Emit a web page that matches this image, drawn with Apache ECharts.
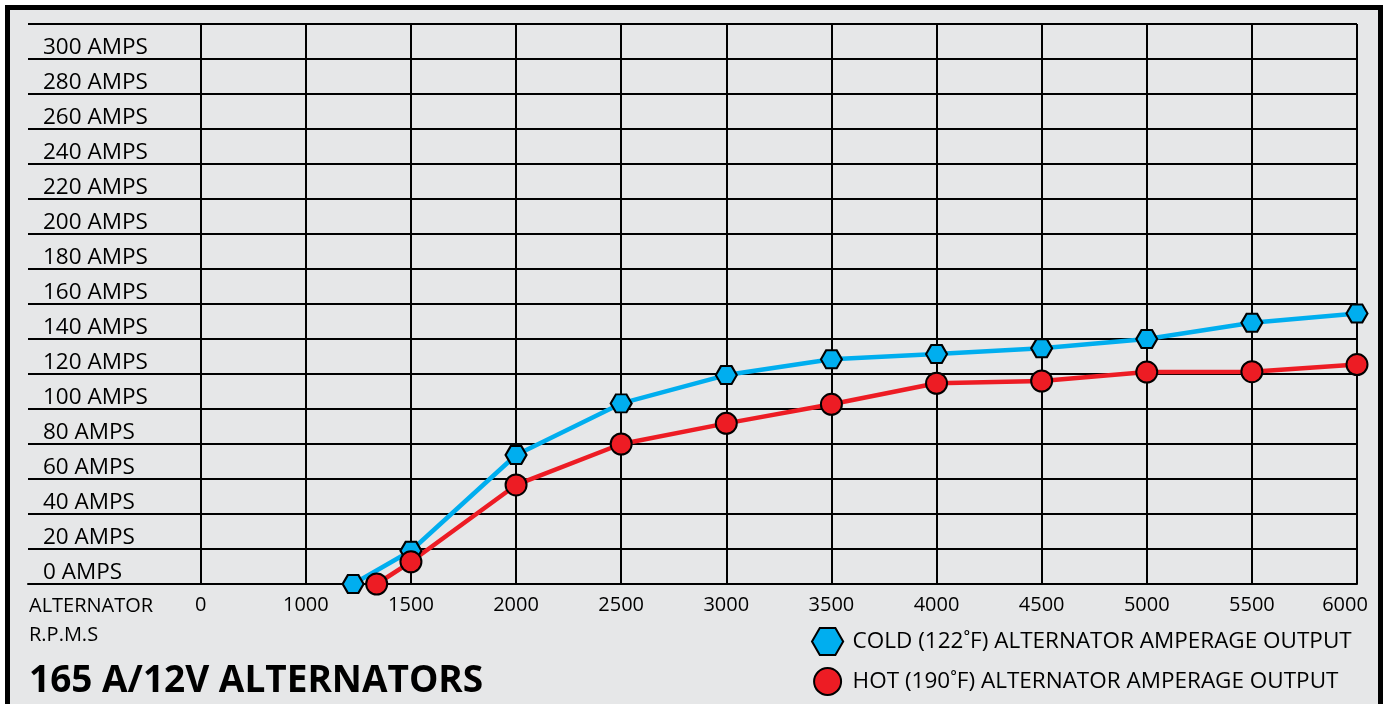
<!DOCTYPE html>
<html>
<head>
<meta charset="utf-8">
<script src="https://cdn.jsdelivr.net/npm/echarts@6/dist/echarts.min.js"></script>
<style>
  html, body { margin: 0; padding: 0; background: #ffffff; width: 1383px; height: 704px; overflow: hidden; }
  #frame { position: absolute; left: 5px; top: 5px; width: 1378px; height: 730px; box-sizing: border-box; border: 5px solid #000; background: #e6e7e8; }
  #chart { position: absolute; left: 0; top: 0; width: 1383px; height: 704px; }
</style>
</head>
<body>
<div id="frame"></div>
<div id="chart"></div>
<script>
// ---- data ----
const rpmTicks = [0, 1000, 1500, 2000, 2500, 3000, 3500, 4000, 4500, 5000, 5500, 6000];
const ampTicks = [0, 20, 40, 60, 80, 100, 120, 140, 160, 180, 200, 220, 240, 260, 280, 300];
const coldName = 'COLD (122˚F) ALTERNATOR AMPERAGE OUTPUT';
const hotName = 'HOT (190˚F) ALTERNATOR AMPERAGE OUTPUT';
const coldRpm = [1225, 1500, 2000, 2500, 3000, 3500, 4000, 4500, 5000, 5500, 6000];
const coldAmps = [0, 19, 73.7, 103.2, 119.4, 128.4, 131.4, 134.7, 140, 149.3, 154.6];
const hotRpm = [1337, 1500, 2000, 2500, 3000, 3500, 4000, 4500, 5000, 5500, 6000];
const hotAmps = [0, 12.7, 56.6, 80, 91.8, 102.7, 114.7, 116, 121.1, 121.3, 125.4];
const titleText = '165 A/12V ALTERNATORS';
const xAxisCaption = 'ALTERNATOR\nR.P.M.S';

// the printed rpm scale is evenly spaced per tick, not linear: map rpm -> tick position
function posOf(rpm) {
  for (let i = 0; i < rpmTicks.length - 1; i++) {
    const a = rpmTicks[i], b = rpmTicks[i + 1];
    if (rpm <= b) return i + (rpm - a) / (b - a);
  }
  return rpmTicks.length - 1;
}
const tickPositions = rpmTicks.map((_, i) => i);
const lastPos = rpmTicks.length - 1;

const hexPath = 'path://M0,8.66 L5,0 L15,0 L20,8.66 L15,17.32 L5,17.32 Z';
const FONT = '"Open Sans", "Noto Sans", sans-serif';

const chart = echarts.init(document.getElementById('chart'), null, { renderer: 'canvas' });
chart.setOption({
  backgroundColor: 'transparent',
  animation: false,
  textStyle: { fontFamily: FONT, color: '#000' },
  grid: { left: 28, right: 26, top: 24, bottom: 120, containLabel: false },
  xAxis: {
    type: 'value',
    min: -1.643,
    max: lastPos,
    axisLine: { show: true, onZero: false, lineStyle: { color: '#000', width: 2 } },
    axisTick: { show: false, customValues: tickPositions },
    splitLine: { show: true, lineStyle: { color: '#000', width: 2 } },
    axisLabel: {
      customValues: tickPositions,
      fontSize: 20,
      fontFamily: FONT,
      color: '#000',
      margin: 11,
      formatter: function (v) {
        const idx = Math.round(v);
        const t = String(rpmTicks[idx]);
        return idx === lastPos ? '{r|' + t + '}' : t;
      },
      rich: { r: { fontSize: 20, fontFamily: FONT, color: '#000', padding: [0, 24, 0, 0] } }
    }
  },
  yAxis: {
    type: 'value',
    min: 0,
    max: 320,
    interval: 20,
    axisLine: { show: true, lineStyle: { color: '#000', width: 2 } },
    axisTick: { show: false },
    splitLine: { show: true, lineStyle: { color: '#000', width: 2 } },
    axisLabel: {
      inside: true,
      margin: 15,
      align: 'left',
      verticalAlign: 'bottom',
      fontSize: 22.5,
      fontFamily: FONT,
      color: '#000',
      showMaxLabel: false,
      formatter: function (v) { return ampTicks.indexOf(v) >= 0 ? v + ' AMPS' : ''; }
    }
  },
  legend: {
    orient: 'vertical',
    left: 811,
    top: 627,
    padding: 0,
    itemWidth: 36,
    itemHeight: 27,
    itemGap: 11,
    selectedMode: false,
    textStyle: { fontSize: 22.5, fontFamily: FONT, color: '#000', padding: [0, 0, 0, 2] },
    itemStyle: { borderColor: '#000', borderWidth: 2 },
    data: [
      { name: coldName, icon: hexPath },
      { name: hotName, icon: 'circle' }
    ]
  },
  graphic: [
    {
      type: 'text', left: 29, top: 592,
      style: { text: xAxisCaption, fontSize: 20, fontFamily: FONT, fill: '#000', lineHeight: 29 }
    },
    {
      type: 'text', left: 29, top: 663,
      style: { text: titleText, fontSize: 37, fontWeight: 'bold', fontFamily: FONT, fill: '#000' }
    }
  ],
  series: [
    {
      name: coldName,
      type: 'line',
      data: coldRpm.map((r, i) => [posOf(r), coldAmps[i]]),
      symbol: hexPath,
      symbolSize: [21, 18],
      symbolKeepAspect: false,
      lineStyle: { color: '#00aeef', width: 4.5 },
      itemStyle: { color: '#00aeef', borderColor: '#000', borderWidth: 2 },
      clip: false
    },
    {
      name: hotName,
      type: 'line',
      data: hotRpm.map((r, i) => [posOf(r), hotAmps[i]]),
      symbol: 'circle',
      symbolSize: 21,
      lineStyle: { color: '#ed1c24', width: 4.5 },
      itemStyle: { color: '#ed1c24', borderColor: '#000', borderWidth: 2 },
      clip: false
    }
  ]
});
</script>
</body>
</html>
